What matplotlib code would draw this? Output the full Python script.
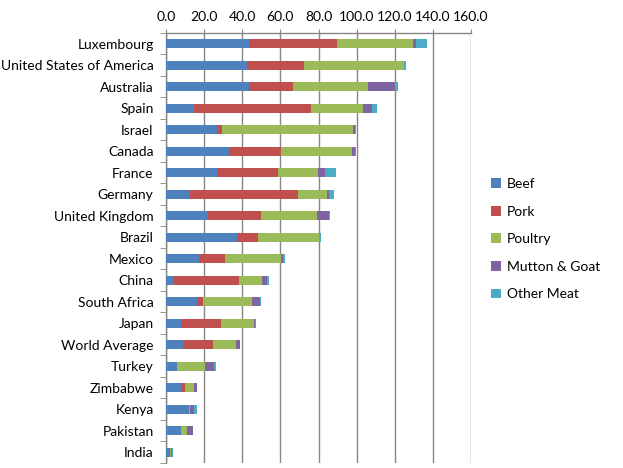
import matplotlib
matplotlib.use("Agg")
import matplotlib.pyplot as plt
import numpy as np

countries = ["Luxembourg", "United States of America", "Australia", "Spain", "Israel",
             "Canada", "France", "Germany", "United Kingdom", "Brazil", "Mexico", "China",
             "South Africa", "Japan", "World Average", "Turkey", "Zimbabwe", "Kenya",
             "Pakistan", "India"]
beef = [43.7, 42.3, 43.3, 14.9, 27.0, 32.8, 26.5, 12.8, 21.8, 37.0, 17.5, 4.4,
        16.5, 8.6, 9.1, 6.0, 8.1, 11.8, 8.1, 1.6]
pork = [45.8, 30.0, 23.2, 61.1, 2.6, 27.4, 32.1, 56.3, 28.2, 11.1, 13.7, 33.7,
        3.1, 20.0, 15.3, 0.0, 2.1, 0.5, 0.0, 0.3]
poultry = [40.1, 52.3, 39.5, 27.3, 68.5, 37.3, 21.0, 15.3, 29.1, 32.1, 29.0, 12.1,
           25.3, 17.4, 12.1, 14.7, 4.7, 0.5, 3.1, 0.7]
mutton = [1.6, 0.3, 14.2, 4.8, 1.0, 1.6, 3.7, 1.0, 6.3, 0.3, 1.0, 2.6,
          4.2, 0.5, 2.1, 4.7, 1.1, 2.1, 2.7, 0.6]
other = [5.8, 1.1, 1.6, 2.6, 0.4, 0.4, 5.8, 2.7, 0.6, 0.6, 1.1, 1.1,
         0.5, 0.5, 0.1, 0.6, 0.0, 1.1, 0.5, 0.2]
series_names = ["Beef", "Pork", "Poultry", "Mutton & Goat", "Other Meat"]
colors = ["#4F81BD", "#C0504D", "#9BBB59", "#8064A2", "#4BACC6"]
xticks = [0, 20, 40, 60, 80, 100, 120, 140, 160]

plt.rcParams['font.family'] = ['Lato', 'DejaVu Sans']
fig = plt.figure(figsize=(6.23, 4.68), dpi=100)
ax = fig.add_axes([0.2665, 0.0107, 0.4895, 0.9188])

y = np.arange(len(countries))
left = np.zeros(len(countries))
handles = []
for name, vals, c in zip(series_names, [beef, pork, poultry, mutton, other], colors):
    b = ax.barh(y, vals, left=left, height=0.4, color=c, label=name, zorder=3)
    left = left + np.array(vals)
    handles.append(b)

ax.set_xlim(0, 160)
ax.set_ylim(len(countries) - 0.5, -0.5)
ax.set_xticks(xticks)
ax.set_xticklabels([f"{v:.1f}" for v in xticks], fontsize=10)
ax.xaxis.tick_top()
ax.tick_params(axis='x', length=3, color='#868686', pad=4)
ax.set_yticks(y)
ax.set_yticklabels(countries, fontsize=10)
ax.set_yticks(np.arange(-0.5, len(countries) + 0.5, 1), minor=True)
ax.tick_params(axis='y', which='major', length=0, pad=9)
ax.tick_params(axis='y', which='minor', length=4, color='#868686')
ax.grid(axis='x', color='#868686', linewidth=1, zorder=0)
for s in ['bottom', 'right']:
    ax.spines[s].set_visible(False)
for s in ['top', 'left']:
    ax.spines[s].set_color('#868686')
    ax.spines[s].set_linewidth(1)

leg = fig.legend(handles=handles, labels=series_names, loc='center left',
                 bbox_to_anchor=(0.768, 0.489), frameon=False, fontsize=10,
                 handlelength=0.7, handleheight=0.7, handletextpad=0.45,
                 labelspacing=1.12)

fig.savefig("out.png", dpi=100)
